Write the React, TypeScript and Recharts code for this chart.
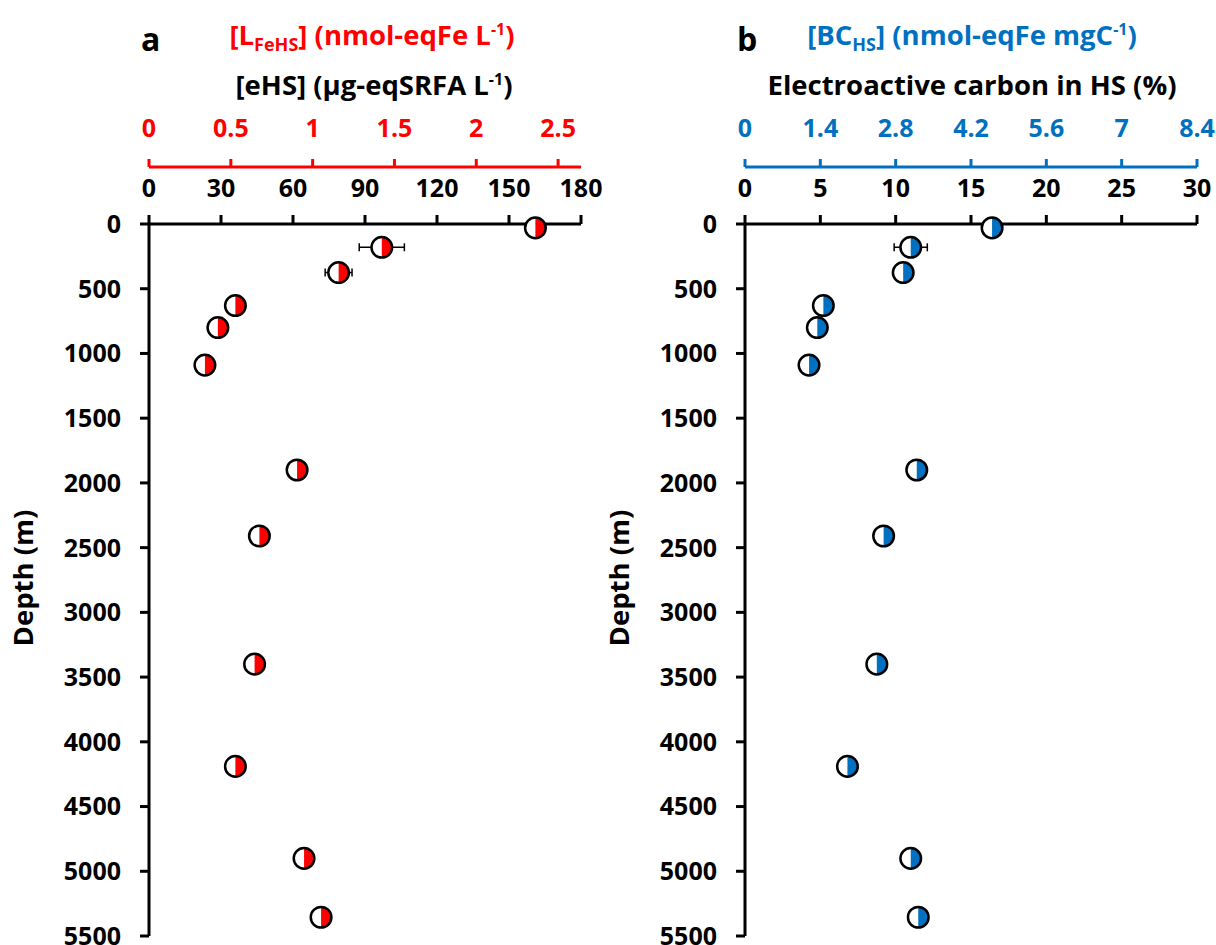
import React from 'react';
import { ScatterChart, Scatter, XAxis, YAxis, ErrorBar } from 'recharts';

const RED = '#FF0000';
const BLUE = '#0070C0';
const FONT = '"Open Sans", sans-serif';

// depth (m) of each sample
const depths = [30, 180, 375, 630, 800, 1090, 1900, 2410, 3400, 4190, 4900, 5355];
// panel a: [eHS] (µg-eqSRFA L-1)
const eHS = [161, 97, 79, 36, 28.7, 23.3, 61.7, 46, 44, 36, 64.6, 71.7];
const eHSErr = [null, 9.4, 5.6, null, null, null, null, null, null, null, null, null];
// panel b: electroactive carbon in HS (%)
const elecC = [16.4, 11.0, 10.5, 5.2, 4.8, 4.25, 11.4, 9.2, 8.75, 6.8, 11.0, 11.5];
const elecErr = [null, 1.1, null, null, null, null, null, null, null, null, null, null];

// unit conversions between the paired top axes
const EHS_PER_LFE = 68.2; // µg-eqSRFA per nmol-eqFe
const BC_PER_PCT = 0.28; // nmol-eqFe mgC-1 per % electroactive C

const depthTicks = [0, 500, 1000, 1500, 2000, 2500, 3000, 3500, 4000, 4500, 5000, 5500];
const eHSTicks = [0, 30, 60, 90, 120, 150, 180];
const lFeTicks = [0, 0.5, 1, 1.5, 2, 2.5];
const elecTicks = [0, 5, 10, 15, 20, 25, 30];
const bcTicks = [0, 1.4, 2.8, 4.2, 5.6, 7, 8.4];

const dataA = depths.map((d, i) => ({ x: eHS[i], x2: eHS[i] / EHS_PER_LFE, y: d, err: eHSErr[i] }));
const dataB = depths.map((d, i) => ({ x: elecC[i], x2: elecC[i] * BC_PER_PCT, y: d, err: elecErr[i] }));

function HalfMarker({ cx, cy, color }: any) {
  if (cx == null || cy == null) return null;
  const r = 10.3;
  return (
    <g>
      <circle cx={cx} cy={cy} r={r} fill="#fff" />
      <path d={`M ${cx} ${cy - r} A ${r} ${r} 0 0 1 ${cx} ${cy + r} Z`} fill={color} />
      <circle cx={cx} cy={cy} r={r} fill="none" stroke="#000" strokeWidth={2.5} />
    </g>
  );
}

const tickFont = { fontFamily: FONT, fontSize: 25, fontWeight: 700 };

function Panel({
  data, color, xMax, xTicks, topMax, topTicks, yWidth, width, right,
}: any) {
  return (
    <ScatterChart width={width} height={945} margin={{ top: 107, right, bottom: 9, left: 0 }}>
      <XAxis
        xAxisId="black"
        type="number"
        dataKey="x"
        orientation="top"
        domain={[0, xMax]}
        ticks={xTicks}
        height={57}
        tickSize={9}
        tickMargin={18}
        axisLine={{ stroke: '#000', strokeWidth: 3 }}
        tickLine={{ stroke: '#000', strokeWidth: 3 }}
        tick={{ ...tickFont, fill: '#000' }}
        interval={0}
      />
      <XAxis
        xAxisId="color"
        type="number"
        dataKey="x2"
        orientation="top"
        domain={[0, topMax]}
        ticks={topTicks}
        allowDataOverflow
        height={60}
        tickSize={8}
        tickMargin={22}
        axisLine={{ stroke: color, strokeWidth: 3 }}
        tickLine={{ stroke: color, strokeWidth: 3 }}
        tick={{ ...tickFont, fill: color }}
        interval={0}
      />
      <YAxis
        type="number"
        dataKey="y"
        reversed
        domain={[0, 5500]}
        ticks={depthTicks}
        width={yWidth}
        tickSize={9}
        tickMargin={19}
        axisLine={{ stroke: '#000', strokeWidth: 3 }}
        tickLine={{ stroke: '#000', strokeWidth: 3 }}
        tick={{ ...tickFont, fill: '#000' }}
        interval={0}
      />
      {/* same samples in the converted unit, only to bind the coloured axis */}
      <Scatter
        xAxisId="color"
        data={data}
        dataKey="x2"
        isAnimationActive={false}
        shape={() => <g />}
      />
      <Scatter
        xAxisId="black"
        data={data}
        isAnimationActive={false}
        shape={(p: any) => <HalfMarker {...p} color={color} />}
      >
        <ErrorBar dataKey="err" direction="x" width={4} strokeWidth={1.5} stroke="#000" />
      </Scatter>
    </ScatterChart>
  );
}

export default function App() {
  const title = { fontFamily: FONT, fontSize: 27.5, fontWeight: 700 };
  return (
    <div style={{ position: 'absolute', left: 0, top: 0, width: 1216, height: 945, background: '#fff' }}>
      <div style={{ position: 'absolute', left: 0, top: 0 }}>
        <Panel data={dataA} color={RED} xMax={180} xTicks={eHSTicks} topMax={2.64} topTicks={lFeTicks} yWidth={149} width={625} right={44} />
      </div>
      <div style={{ position: 'absolute', left: 600, top: 0 }}>
        <Panel data={dataB} color={BLUE} xMax={30} xTicks={elecTicks} topMax={8.4} topTicks={bcTicks} yWidth={145} width={616} right={19} />
      </div>
      <svg width={1216} height={945} style={{ position: 'absolute', left: 0, top: 0, pointerEvents: 'none' }}>
        <text x={141} y={51} style={{ ...title, fontSize: 32 }} fill="#000">a</text>
        <text x={372} y={45} textAnchor="middle" style={title} fill={RED}>
          [L<tspan dy={6} fontSize={18}>FeHS</tspan><tspan dy={-6}>] (nmol-eqFe L</tspan>
          <tspan dy={-10} fontSize={16}>-1</tspan><tspan dy={10}>)</tspan>
        </text>
        <text x={374} y={95} textAnchor="middle" style={title} fill="#000">
          [eHS] (µg-eqSRFA L<tspan dy={-10} fontSize={16}>-1</tspan><tspan dy={10}>)</tspan>
        </text>
        <text x={737} y={51} style={{ ...title, fontSize: 32 }} fill="#000">b</text>
        <text x={972} y={45} textAnchor="middle" style={title} fill={BLUE}>
          [BC<tspan dy={6} fontSize={18}>HS</tspan><tspan dy={-6}>] (nmol-eqFe mgC</tspan>
          <tspan dy={-10} fontSize={16}>-1</tspan><tspan dy={10}>)</tspan>
        </text>
        <text x={972} y={95} textAnchor="middle" style={title} fill="#000">Electroactive carbon in HS (%)</text>
        <text transform="translate(33,578) rotate(-90)" textAnchor="middle" style={title} fill="#000">Depth (m)</text>
        <text transform="translate(629,578) rotate(-90)" textAnchor="middle" style={title} fill="#000">Depth (m)</text>
      </svg>
    </div>
  );
}
